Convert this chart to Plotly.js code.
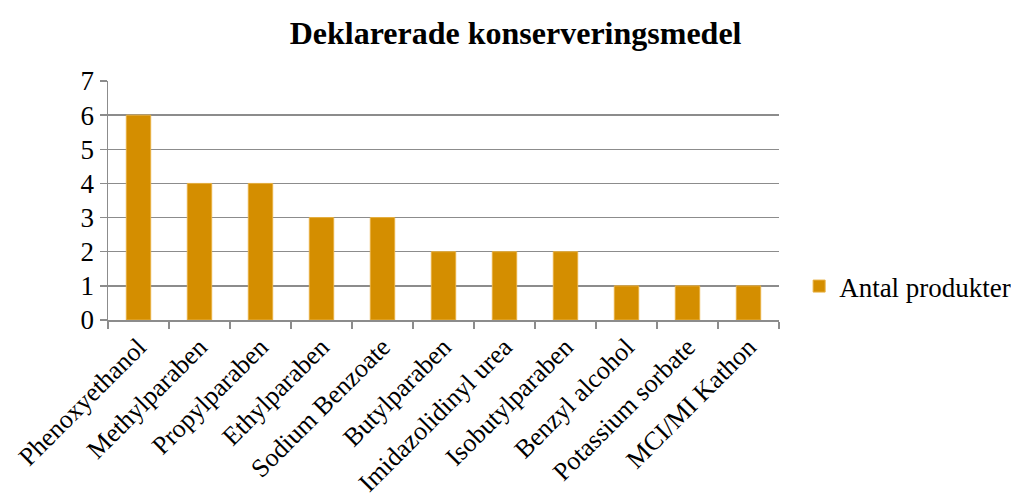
<!DOCTYPE html>
<html><head><meta charset="utf-8">
<script src="https://cdn.plot.ly/plotly-3.0.1.min.js"></script>
<style>html,body{margin:0;padding:0;background:#fff}#c{width:1011px;height:501px}</style>
</head><body><div id="c"></div>
<script>
const categories = ["Phenoxyethanol","Methylparaben","Propylparaben","Ethylparaben","Sodium Benzoate","Butylparaben","Imidazolidinyl urea","Isobutylparaben","Benzyl alcohol","Potassium sorbate","MCI/MI Kathon"];
const antalProdukter = [6,4,4,3,3,2,2,2,1,1,1];
const seriesName = "Antal produkter";
const chartTitle = "Deklarerade konserveringsmedel";
const font = "Liberation Serif";
Plotly.newPlot('c', [{
  type:'bar', x:categories, y:antalProdukter, name:seriesName,
  marker:{color:'#D48E00', line:{color:'#E8B040', width:1}},
  showlegend:true
}], {
  width:1011, height:501,
  margin:{l:108, r:232, t:81, b:181, autoexpand:false},
  paper_bgcolor:'#fff', plot_bgcolor:'#fff',
  font:{family:font, color:'#000', size:26},
  title:{text:'<b>'+chartTitle+'</b>', font:{family:font, size:32, color:'#000'}, x:0.51, xanchor:'center', y:0.935, yanchor:'middle'},
  bargap:0.6,
  showlegend:true,
  legend:{x:1.03, xanchor:'left', y:0.14, yanchor:'middle', font:{family:font, size:27, color:'#000'}, itemwidth:30},
  xaxis:{type:'category', tickangle:-45, tickson:'boundaries', ticks:'outside', ticklen:7, tickcolor:'#8c8c8c', tickwidth:1.5,
         showline:true, linecolor:'#8c8c8c', linewidth:1.5, showgrid:false, tickfont:{family:font, size:26}, automargin:false},
  yaxis:{range:[0,7], dtick:1, ticks:'outside', ticklen:7, tickcolor:'#8c8c8c', tickwidth:1.5,
         showline:true, linecolor:'#8c8c8c', linewidth:1.5, showgrid:true, gridcolor:'#8c8c8c', gridwidth:1.5,
         zeroline:false, tickfont:{family:font, size:27}, automargin:false}
}, {displayModeBar:false, staticPlot:true});
</script></body></html>
